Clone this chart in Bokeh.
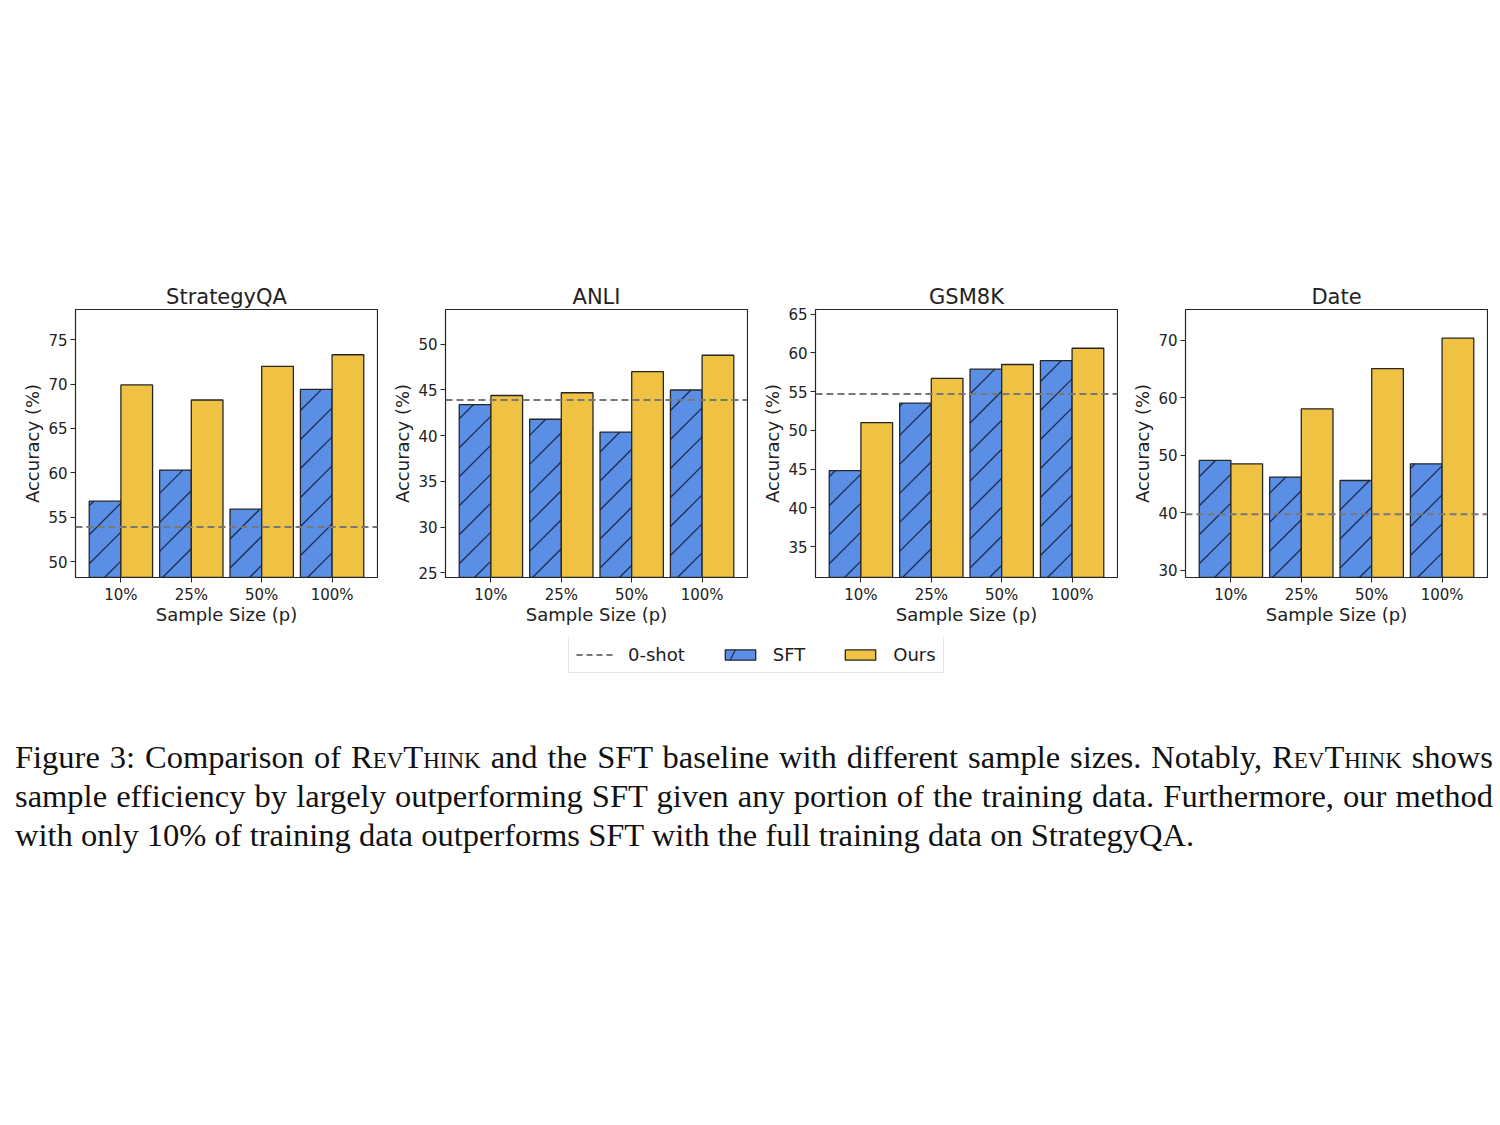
import math
from bokeh.plotting import figure
from bokeh.models import (ColumnDataSource, Range1d, FixedTicker, Span, Legend,
                          LegendItem, Div, Spacer)
from bokeh.layouts import column, row
from bokeh.transform import dodge
from bokeh.embed import file_html
from bokeh.resources import INLINE

# ---------------- data ----------------
datasets = ["StrategyQA", "ANLI", "GSM8K", "Date"]
sizes = ["10%", "25%", "50%", "100%"]

sft_strategyqa = [56.8, 60.3, 55.9, 69.4]
ours_strategyqa = [69.9, 68.2, 72.0, 73.3]
sft_anli = [43.4, 41.8, 40.4, 45.0]
ours_anli = [44.4, 44.7, 47.0, 48.8]
sft_gsm8k = [44.8, 53.5, 57.9, 59.0]
ours_gsm8k = [51.0, 56.7, 58.5, 60.6]
sft_date = [49.1, 46.2, 45.6, 48.5]
ours_date = [48.5, 58.1, 65.1, 70.4]

zero_shot = [53.9, 43.9, 54.7, 39.7]

sft_all = [sft_strategyqa, sft_anli, sft_gsm8k, sft_date]
ours_all = [ours_strategyqa, ours_anli, ours_gsm8k, ours_date]

y_limits = [(48.2, 78.4), (24.5, 53.8), (31.0, 65.6), (28.7, 75.4)]
y_ticks = [[50, 55, 60, 65, 70, 75], [25, 30, 35, 40, 45, 50],
           [35, 40, 45, 50, 55, 60, 65], [30, 40, 50, 60, 70]]

caption_lines = [
    'Figure 3: Comparison of <span style="font-variant:small-caps">RevThink</span> and the SFT baseline with different sample sizes. Notably, <span style="font-variant:small-caps">RevThink</span> shows',
    'sample efficiency by largely outperforming SFT given any portion of the training data. Furthermore, our method',
    'with only 10% of training data outperforms SFT with the full training data on StrategyQA.',
]

# ---------------- style ----------------
BLUE = "#5b8fe5"
YELLOW = "#efc244"
EDGE = "#262626"
HATCH = "#1c2a4e"
DASH = "#777777"
TXT = "#222222"
FONT = "DejaVu Sans"

BAR_W = 0.45
FRAME_W, FRAME_H = 302, 268
X_PAD = 0.645
HATCH_STEP = 29.0  # px between 45-degree hatch lines


def hatch_segments(xs, tops, xlo, xhi, ylo, yhi):
    """45-degree (in screen space) hatch lines clipped to each SFT bar."""
    kx = FRAME_W / (xhi - xlo)
    ky = FRAME_H / (yhi - ylo)
    x0s, y0s, x1s, y1s = [], [], [], []
    for xc, top in zip(xs, tops):
        u0 = (xc - BAR_W - xlo) * kx
        u1 = (xc - xlo) * kx
        vt = (top - ylo) * ky
        k = math.floor((0 - u1) / HATCH_STEP)
        while True:
            c = k * HATCH_STEP
            if c > vt - u0:
                break
            ua = max(u0, -c)
            ub = min(u1, vt - c)
            if ub - ua > 0.5:
                x0s.append(ua / kx + xlo)
                y0s.append((ua + c) / ky + ylo)
                x1s.append(ub / kx + xlo)
                y1s.append((ub + c) / ky + ylo)
            k += 1
    return dict(x0=x0s, y0=y0s, x1=x1s, y1=y1s)


sources = []
panels = []
for i, name in enumerate(datasets):
    xs = list(range(len(sizes)))
    src = ColumnDataSource(dict(x=xs, sft=sft_all[i], ours=ours_all[i]))
    sources.append(src)
    xlo, xhi = -X_PAD, len(sizes) - 1 + X_PAD
    ylo, yhi = y_limits[i]
    p = figure(frame_width=FRAME_W, frame_height=FRAME_H,
               min_border_left=67, min_border_right=1,
               min_border_top=45, min_border_bottom=60,
               x_range=Range1d(xlo, xhi), y_range=Range1d(ylo, yhi),
               output_backend="svg", toolbar_location=None, title=name)
    # SFT bars: fill, hatch, then edge
    p.vbar(x=dodge("x", -BAR_W / 2), top="sft", bottom=0, width=BAR_W, source=src,
           fill_color=BLUE, line_color=None)
    hsrc = ColumnDataSource(hatch_segments(xs, sft_all[i], xlo, xhi, ylo, yhi))
    p.segment(x0="x0", y0="y0", x1="x1", y1="y1", source=hsrc,
              line_color=HATCH, line_width=1.3)
    p.vbar(x=dodge("x", -BAR_W / 2), top="sft", bottom=0, width=BAR_W, source=src,
           fill_color=None, line_color=EDGE, line_width=1.3)
    # Ours bars
    p.vbar(x=dodge("x", BAR_W / 2), top="ours", bottom=0, width=BAR_W, source=src,
           fill_color=YELLOW, line_color=EDGE, line_width=1.3)
    p.add_layout(Span(location=zero_shot[i], dimension="width",
                      line_color=DASH, line_width=2, line_dash="7 4"))

    p.title.align = "center"
    p.title.text_font = FONT
    p.title.text_font_size = "21px"
    p.title.text_font_style = "normal"
    p.title.text_color = TXT
    p.title.standoff = 2

    p.xaxis.ticker = FixedTicker(ticks=xs)
    p.xaxis.major_label_overrides = {k: s for k, s in enumerate(sizes)}
    p.yaxis.ticker = FixedTicker(ticks=y_ticks[i])
    p.xaxis.axis_label = "Sample Size (p)"
    p.yaxis.axis_label = "Accuracy (%)"
    for ax in (p.xaxis[0], p.yaxis[0]):
        ax.axis_label_text_font = FONT
        ax.axis_label_text_font_size = "18px"
        ax.axis_label_text_font_style = "normal"
        ax.axis_label_text_color = TXT
        ax.major_label_text_font = FONT
        ax.major_label_text_font_size = "15px"
        ax.major_label_text_color = TXT
        ax.major_tick_in = 0
        ax.major_tick_out = 5
        ax.major_tick_line_color = EDGE
        ax.minor_tick_line_color = None
        ax.axis_line_color = EDGE
    p.yaxis.major_label_standoff = 3
    p.yaxis.axis_label_standoff = 2
    p.xaxis.major_label_standoff = 3
    p.xaxis.axis_label_standoff = -3
    p.xgrid.visible = False
    p.ygrid.visible = False
    p.outline_line_color = EDGE
    p.outline_line_width = 1.2
    p.outline_line_alpha = 1.0
    p.background_fill_color = "white"
    p.border_fill_color = "white"
    panels.append(p)

# ---------------- legend (zero-size proxy renderers) ----------------
leg = figure(width=1480, height=40, x_range=Range1d(-X_PAD, 3 + X_PAD),
             y_range=Range1d(*y_limits[0]),
             x_axis_location=None, y_axis_location=None, min_border=0,
             output_backend="svg", toolbar_location=None)
leg.outline_line_color = None
leg.xgrid.visible = False
leg.ygrid.visible = False
zs_src = ColumnDataSource(dict(x=[0], y=zero_shot[:1]))
r_zero = leg.line(x="x", y="y", source=zs_src, line_color=DASH, line_width=2,
                  line_dash="6 4")
r_sft = leg.vbar(x="x", top="sft", bottom="sft", width=0, source=sources[0],
                 fill_color=BLUE, line_color=EDGE, line_width=1.3,
                 hatch_pattern="/", hatch_color=HATCH, hatch_scale=56,
                 hatch_weight=1.2)
r_ours = leg.vbar(x="x", top="ours", bottom="ours", width=0, source=sources[0],
                  fill_color=YELLOW, line_color=EDGE, line_width=1.3)
legend = Legend(items=[LegendItem(label="0-shot", renderers=[r_zero]),
                       LegendItem(label="SFT", renderers=[r_sft]),
                       LegendItem(label="Ours", renderers=[r_ours])],
                orientation="horizontal", location=(560, 4))
legend.label_text_font = FONT
legend.label_text_font_size = "18px"
legend.label_text_color = TXT
legend.glyph_width = 38
legend.glyph_height = 13
legend.label_standoff = 14
legend.spacing = 36
legend.padding = 7
legend.margin = 0
legend.border_line_color = "#cccccc"
legend.border_line_width = 1
legend.background_fill_color = "white"
leg.add_layout(legend)

# ---------------- caption ----------------
base = ("font-family:'Liberation Serif','Times New Roman',serif;font-size:32.5px;"
        "line-height:39px;color:#111111;")
html_parts = []
for j, line in enumerate(caption_lines):
    align = ("text-align:justify;text-align-last:justify;"
             if j < len(caption_lines) - 1 else "text-align:left;")
    html_parts.append(f'<div style="{base}{align}">{line}</div>')
caption_html = ('<div style="margin-left:10px;width:1478px;">'
                + "".join(html_parts) + "</div>")
caption = Div(text=caption_html, width=1500, height=130)

layout = column(
    Spacer(height=264),
    row(Spacer(width=8), *panels, Spacer(width=12)),
    row(Spacer(width=8), leg),
    Spacer(height=56),
    caption,
)

open("out.html", "w").write(file_html(layout, INLINE))
